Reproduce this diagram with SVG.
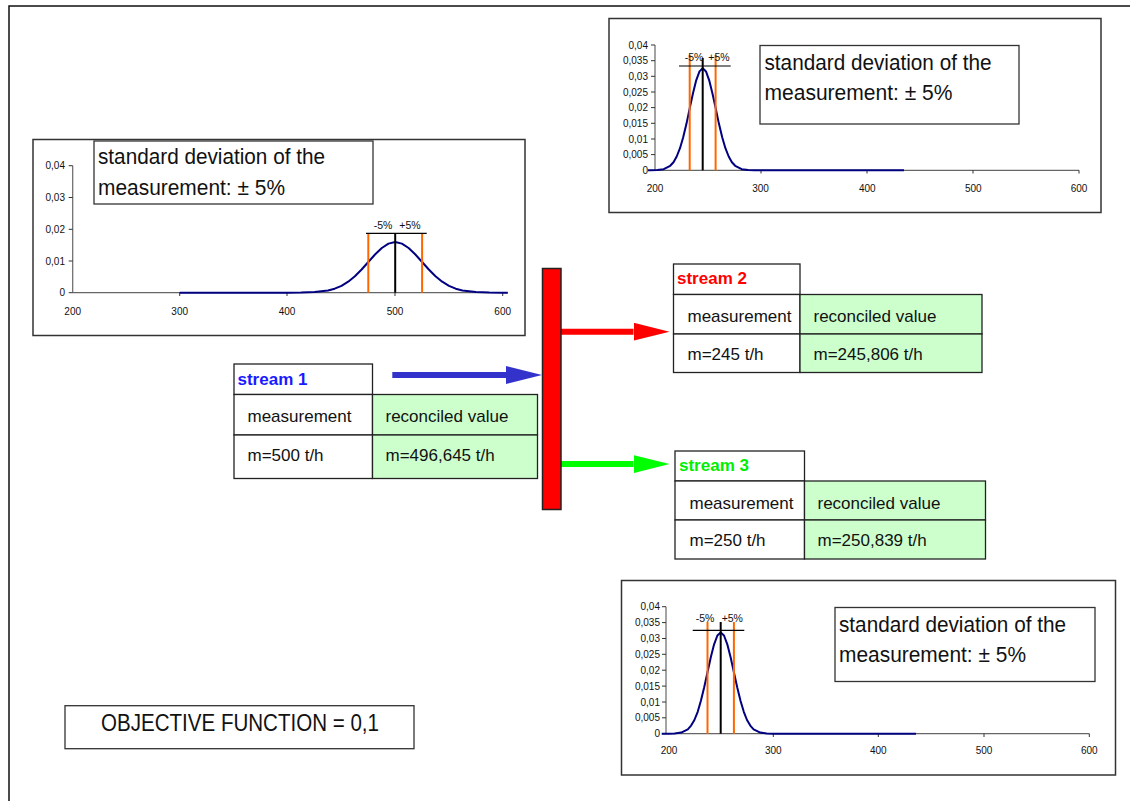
<svg xmlns="http://www.w3.org/2000/svg" width="1130" height="801" viewBox="0 0 1130 801">
<style>
text{font-family:"Liberation Sans",Arial,sans-serif;fill:#111}
.frame{fill:#fff;stroke:#333;stroke-width:1.5}
.leg{fill:#fff;stroke:#333;stroke-width:1.3}
.legt{font-size:22px}
.ax{stroke:#666;stroke-width:1.2;fill:none}
.tk{stroke:#333;stroke-width:1;fill:none}
.yl{font-size:10px;text-anchor:end}
.xl{font-size:10px;text-anchor:middle}
.pc{font-size:10.5px;text-anchor:middle}
.curve{fill:none;stroke:#000080;stroke-width:2;stroke-linejoin:round}
.org{stroke:#FF6600;stroke-width:2}
.blk{stroke:#000;stroke-width:2}
.hb{stroke:#000;stroke-width:1.2}
.cell{fill:#fff;stroke:#222;stroke-width:1.3}
.gcell{fill:#CCFFCC;stroke:#222;stroke-width:1.3}
.ct{font-size:17px}
.hd{font-size:17px;font-weight:bold}
</style>
<defs>
<marker id="hBlue" markerUnits="userSpaceOnUse" markerWidth="36" markerHeight="18" refX="0" refY="9" orient="auto"><path d="M0,0 L36,9 L0,18 z" fill="#3333CC"/></marker>
<marker id="hRed" markerUnits="userSpaceOnUse" markerWidth="36" markerHeight="18" refX="0" refY="9" orient="auto"><path d="M0,0 L36,9 L0,18 z" fill="#FF0000"/></marker>
<marker id="hGreen" markerUnits="userSpaceOnUse" markerWidth="36" markerHeight="18" refX="0" refY="9" orient="auto"><path d="M0,0 L36,9 L0,18 z" fill="#00FF00"/></marker>
</defs>
<rect width="1130" height="801" fill="#fff"/>
<path d="M9,801 L9,6 L1130,6" fill="none" stroke="#111" stroke-width="1.5"/>

<g id="chart-stream1">
<rect class="frame" x="33" y="139.5" width="492" height="196"/>
<line class="ax" x1="72.7" y1="165.7" x2="72.7" y2="292.7"/>
<line class="ax" x1="72.7" y1="292.7" x2="508" y2="292.7"/>
<path class="tk" d="M68.7,165.7H72.7M68.7,197.5H72.7M68.7,229.3H72.7M68.7,261H72.7M68.7,292.7H72.7M179.7,292.7V296M287,292.7V296M395,292.7V296M502.7,292.7V296"/>
<text class="yl" x="65" y="169">0,04</text>
<text class="yl" x="65" y="201">0,03</text>
<text class="yl" x="65" y="232.8">0,02</text>
<text class="yl" x="65" y="264.5">0,01</text>
<text class="yl" x="65" y="296.2">0</text>
<text class="xl" x="72.7" y="315">200</text>
<text class="xl" x="179.7" y="315">300</text>
<text class="xl" x="287" y="315">400</text>
<text class="xl" x="395" y="315">500</text>
<text class="xl" x="502.7" y="315">600</text>
<polyline class="curve" points="179.7,292.7 287.7,292.7 301.1,292.6 314.6,292.1 328,290.5 334.7,288.7 341.5,285.8 348.2,281.7 354.9,276.3 361.6,269.5 368.3,262 375,254.5 381.8,248 388.5,243.6 395.2,242 401.9,243.6 408.6,248 415.4,254.5 422.1,262 428.8,269.5 435.5,276.3 442.2,281.7 449,285.8 455.7,288.7 462.4,290.5 475.8,292.1 489.3,292.6 502.7,292.7 507.7,292.7"/>
<line class="org" x1="368.3" y1="234" x2="368.3" y2="292.7"/>
<line class="org" x1="422.1" y1="234" x2="422.1" y2="292.7"/>
<line class="blk" x1="395.2" y1="234" x2="395.2" y2="292.7"/>
<line class="hb" x1="366" y1="233.3" x2="426.7" y2="233.3"/>
<text class="pc" x="383" y="229">-5%</text>
<text class="pc" x="410" y="229">+5%</text>
<rect class="leg" x="94" y="141" width="279" height="63"/>
<text class="legt" x="98" y="164" textLength="227" lengthAdjust="spacingAndGlyphs">standard deviation of the</text>
<text class="legt" x="98" y="195" textLength="187" lengthAdjust="spacingAndGlyphs">measurement: ± 5%</text>
</g>

<g id="chart-stream2">
<rect class="frame" x="609" y="18.5" width="492" height="194"/>
<line class="ax" x1="655" y1="45" x2="655" y2="170.3"/>
<line class="ax" x1="655" y1="170.3" x2="1079" y2="170.3"/>
<path class="tk" d="M651,45H655M651,60.7H655M651,76.3H655M651,92H655M651,107.6H655M651,123.3H655M651,139H655M651,154.6H655M651,170.3H655M761,170.3V173.5M867,170.3V173.5M973,170.3V173.5M1079,170.3V173.5"/>
<text class="yl" x="648" y="48.5">0,04</text>
<text class="yl" x="648" y="64.2">0,035</text>
<text class="yl" x="648" y="79.8">0,03</text>
<text class="yl" x="648" y="95.5">0,025</text>
<text class="yl" x="648" y="111.1">0,02</text>
<text class="yl" x="648" y="126.8">0,015</text>
<text class="yl" x="648" y="142.5">0,01</text>
<text class="yl" x="648" y="158.1">0,005</text>
<text class="yl" x="648" y="173.8">0</text>
<text class="xl" x="655" y="192">200</text>
<text class="xl" x="760.5" y="192">300</text>
<text class="xl" x="867.3" y="192">400</text>
<text class="xl" x="973.3" y="192">500</text>
<text class="xl" x="1079" y="192">600</text>
<polyline class="curve" points="648,170.3 650.8,170.3 657.3,170.1 663.7,169.2 670.2,165.8 673.5,162.2 676.7,156.5 680,148.2 683.2,137.2 686.5,123.6 689.7,108.4 693,93.3 696.2,80.3 699.5,71.4 702.7,68.3 706,71.4 709.2,80.3 712.4,93.3 715.7,108.4 718.9,123.6 722.2,137.2 725.4,148.2 728.7,156.5 731.9,162.2 735.2,165.8 741.7,169.2 748.2,170.1 754.6,170.3 904,170.3"/>
<line class="org" x1="689.7" y1="55" x2="689.7" y2="170.3"/>
<line class="org" x1="715.6" y1="55" x2="715.6" y2="170.3"/>
<line class="blk" x1="702.7" y1="58" x2="702.7" y2="170.3"/>
<line class="hb" x1="679" y1="66" x2="730.7" y2="66"/>
<text class="pc" x="694" y="61">-5%</text>
<text class="pc" x="719" y="61">+5%</text>
<rect class="leg" x="760" y="45.5" width="259" height="78.5"/>
<text class="legt" x="764.5" y="70" textLength="227" lengthAdjust="spacingAndGlyphs">standard deviation of the</text>
<text class="legt" x="764.5" y="100" textLength="188" lengthAdjust="spacingAndGlyphs">measurement: ± 5%</text>
</g>

<g id="chart-stream3">
<rect class="frame" x="621.5" y="580.5" width="494" height="194.5"/>
<line class="ax" x1="666" y1="606.7" x2="666" y2="733.7"/>
<line class="ax" x1="666" y1="733.7" x2="1089.3" y2="733.7"/>
<path class="tk" d="M662,606.7H666M662,622.6H666M662,638.5H666M662,654.3H666M662,670.2H666M662,686.1H666M662,702H666M662,717.8H666M662,733.7H666M773.3,733.7V737M878.3,733.7V737M984,733.7V737M1089.3,733.7V737"/>
<text class="yl" x="660" y="610.2">0,04</text>
<text class="yl" x="660" y="626.1">0,035</text>
<text class="yl" x="660" y="642">0,03</text>
<text class="yl" x="660" y="657.8">0,025</text>
<text class="yl" x="660" y="673.7">0,02</text>
<text class="yl" x="660" y="689.6">0,015</text>
<text class="yl" x="660" y="705.5">0,01</text>
<text class="yl" x="660" y="721.3">0,005</text>
<text class="yl" x="660" y="737.2">0</text>
<text class="xl" x="669" y="753.5">200</text>
<text class="xl" x="773.3" y="753.5">300</text>
<text class="xl" x="878.3" y="753.5">400</text>
<text class="xl" x="984" y="753.5">500</text>
<text class="xl" x="1089.3" y="753.5">600</text>
<polyline class="curve" points="661.7,733.7 668,733.7 674.6,733.5 681.2,732.6 687.8,729.3 691.1,725.6 694.4,720 697.7,711.8 700.9,700.8 704.2,687.3 707.5,672.2 710.8,657.2 714.1,644.3 717.4,635.5 720.7,632.4 724,635.5 727.3,644.3 730.6,657.2 733.9,672.2 737.2,687.3 740.5,700.8 743.8,711.8 747,720 750.3,725.6 753.6,729.3 760.2,732.6 766.8,733.5 773.4,733.7 916,733.7"/>
<line class="org" x1="707.5" y1="622" x2="707.5" y2="733.7"/>
<line class="org" x1="733.9" y1="622" x2="733.9" y2="733.7"/>
<line class="blk" x1="720.7" y1="622" x2="720.7" y2="733.7"/>
<line class="hb" x1="692.7" y1="630.3" x2="744.3" y2="630.3"/>
<text class="pc" x="705" y="621.5">-5%</text>
<text class="pc" x="732.3" y="621.5">+5%</text>
<rect class="leg" x="835" y="607.5" width="260" height="74"/>
<text class="legt" x="839" y="632" textLength="227" lengthAdjust="spacingAndGlyphs">standard deviation of the</text>
<text class="legt" x="839" y="661.5" textLength="187" lengthAdjust="spacingAndGlyphs">measurement: ± 5%</text>
</g>

<g id="connectors">
<line x1="392.3" y1="375" x2="506" y2="375" stroke="#3333CC" stroke-width="6" marker-end="url(#hBlue)"/>
<line x1="561" y1="331.7" x2="633.5" y2="331.7" stroke="#FF0000" stroke-width="6" marker-end="url(#hRed)"/>
<line x1="561" y1="464" x2="633.5" y2="464" stroke="#00FF00" stroke-width="6" marker-end="url(#hGreen)"/>
</g>

<g id="splitter">
<rect x="542.5" y="268.5" width="18.5" height="241" fill="#FF0000" stroke="#222" stroke-width="1.5"/>
</g>

<g id="stream1">
<rect class="cell" x="234" y="364" width="138.5" height="30.5"/>
<rect class="cell" x="234" y="394.5" width="138.5" height="40.5"/>
<rect class="gcell" x="372.5" y="394.5" width="165" height="40.5"/>
<rect class="cell" x="234" y="435" width="138.5" height="43.5"/>
<rect class="gcell" x="372.5" y="435" width="165" height="43.5"/>
<text class="hd" x="237.5" y="384.5" style="fill:#1a1aff">stream 1</text>
<text class="ct" x="247.5" y="422">measurement</text>
<text class="ct" x="385.5" y="422">reconciled value</text>
<text class="ct" x="247.5" y="461">m=500 t/h</text>
<text class="ct" x="385.5" y="461">m=496,645 t/h</text>
</g>

<g id="stream2">
<rect class="cell" x="673.5" y="264" width="126.5" height="30.5"/>
<rect class="cell" x="673.5" y="294.5" width="126.5" height="39.5"/>
<rect class="gcell" x="800" y="294.5" width="182" height="39.5"/>
<rect class="cell" x="673.5" y="334" width="126.5" height="38.5"/>
<rect class="gcell" x="800" y="334" width="182" height="38.5"/>
<text class="hd" x="677" y="283.5" style="fill:#FF0000">stream 2</text>
<text class="ct" x="687.5" y="322">measurement</text>
<text class="ct" x="813.5" y="322">reconciled value</text>
<text class="ct" x="687.5" y="359.5">m=245 t/h</text>
<text class="ct" x="813.5" y="359.5">m=245,806 t/h</text>
</g>

<g id="stream3">
<rect class="cell" x="675" y="451" width="129.5" height="30"/>
<rect class="cell" x="675" y="481" width="129.5" height="39"/>
<rect class="gcell" x="804.5" y="481" width="181" height="39"/>
<rect class="cell" x="675" y="520" width="129.5" height="39"/>
<rect class="gcell" x="804.5" y="520" width="181" height="39"/>
<text class="hd" x="679" y="470.5" style="fill:#00EE00">stream 3</text>
<text class="ct" x="689.5" y="508.5">measurement</text>
<text class="ct" x="817.5" y="508.5">reconciled value</text>
<text class="ct" x="689.5" y="546">m=250 t/h</text>
<text class="ct" x="817.5" y="546">m=250,839 t/h</text>
</g>

<g id="objective">
<rect class="leg" x="65" y="705.7" width="349" height="43"/>
<text x="101" y="731" style="font-size:23.5px" textLength="278" lengthAdjust="spacingAndGlyphs">OBJECTIVE FUNCTION = 0,1</text>
</g>
</svg>
